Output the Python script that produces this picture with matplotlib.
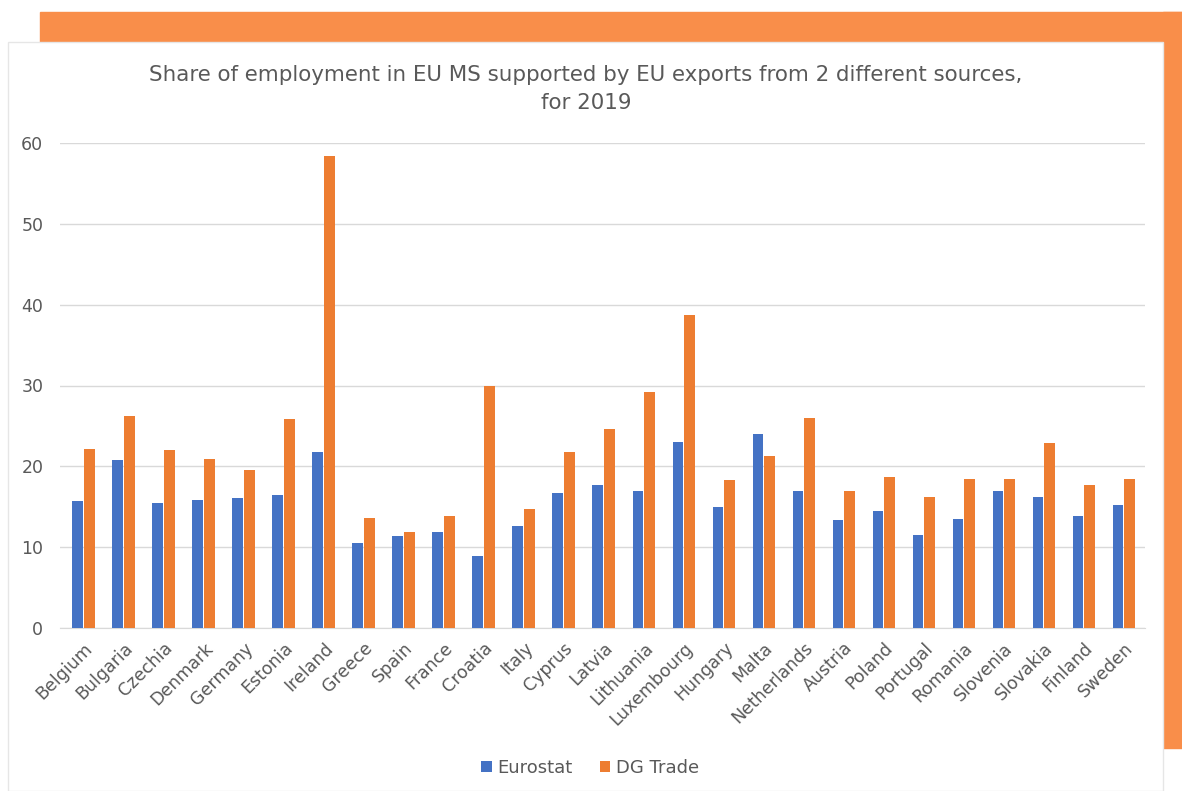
import matplotlib
matplotlib.use("Agg")
import matplotlib.pyplot as plt
from matplotlib.patches import Rectangle
import numpy as np

countries = ["Belgium", "Bulgaria", "Czechia", "Denmark", "Germany", "Estonia", "Ireland",
             "Greece", "Spain", "France", "Croatia", "Italy", "Cyprus", "Latvia", "Lithuania",
             "Luxembourg", "Hungary", "Malta", "Netherlands", "Austria", "Poland", "Portugal",
             "Romania", "Slovenia", "Slovakia", "Finland", "Sweden"]
eurostat = [15.7, 20.8, 15.5, 15.8, 16.1, 16.5, 21.8, 10.5, 11.4, 11.9, 8.9, 12.6, 16.7, 17.7,
            17.0, 23.0, 15.0, 24.0, 17.0, 13.4, 14.5, 11.5, 13.5, 17.0, 16.2, 13.9, 15.2]
dg_trade = [22.2, 26.2, 22.0, 20.9, 19.6, 25.9, 58.4, 13.6, 11.9, 13.9, 30.0, 14.7, 21.8, 24.6,
            29.2, 38.7, 18.3, 21.3, 26.0, 17.0, 18.7, 16.2, 18.4, 18.4, 22.9, 17.7, 18.4]
yticks = [0, 10, 20, 30, 40, 50, 60]

blue = "#4472C4"
orange = "#ED7D31"
frame = "#F98E4A"
grey = "#595959"

fig = plt.figure(figsize=(11.82, 7.91), dpi=100)

# orange frame behind the chart panel
fig.patches.append(Rectangle((40 / 1182, 1 - 42 / 791), 1 - 40 / 1182, 30 / 791,
                             transform=fig.transFigure, color=frame, zorder=0))
fig.patches.append(Rectangle((1163 / 1182, 1 - 748 / 791), 19 / 1182, 736 / 791,
                             transform=fig.transFigure, color=frame, zorder=0))
fig.patches.append(Rectangle((8 / 1182, 0), 1155 / 1182, 1 - 42 / 791,
                             transform=fig.transFigure, facecolor="white",
                             edgecolor="#e6e6e6", lw=1, zorder=1))

ax = fig.add_axes([60 / 1182, 1 - 628 / 791, 1085 / 1182, 485 / 791])
ax.set_zorder(2)
ax.patch.set_alpha(0)

x = np.arange(len(countries))
w = 0.27
ax.bar(x - w / 2 - 0.01, eurostat, w, color=blue, label="Eurostat", zorder=3)
ax.bar(x + w / 2 + 0.01, dg_trade, w, color=orange, label="DG Trade", zorder=3)

ax.set_xlim(-0.59, len(countries) - 0.47)
ax.set_ylim(0, 60)
ax.set_yticks(yticks)
ax.yaxis.grid(True, color="#d9d9d9", lw=1)
ax.set_axisbelow(True)
for s in ax.spines.values():
    s.set_visible(False)
ax.spines["bottom"].set_visible(True)
ax.spines["bottom"].set_color("#d9d9d9")
ax.tick_params(axis="both", length=0, colors=grey, labelsize=12.5)
ax.tick_params(axis="y", pad=12)
ax.tick_params(axis="x", pad=8)
ax.set_xticks(x)
ax.set_xticklabels(countries, rotation=45, ha="right", rotation_mode="anchor")

fig.text(586 / 1182, 1 - 75 / 791, "Share of employment in EU MS supported by EU exports from 2 different sources,",
         ha="center", va="center", fontsize=15.4, color=grey)
fig.text(586 / 1182, 1 - 103 / 791, "for 2019", ha="center", va="center", fontsize=15.4, color=grey)

fig.legend(loc="center", bbox_to_anchor=(590 / 1182, 1 - 768 / 791), ncol=2, frameon=False,
           fontsize=13, labelcolor=grey, handlelength=0.6, handleheight=0.6,
           handletextpad=0.3, columnspacing=1.5)

fig.savefig("out.png", dpi=100)
